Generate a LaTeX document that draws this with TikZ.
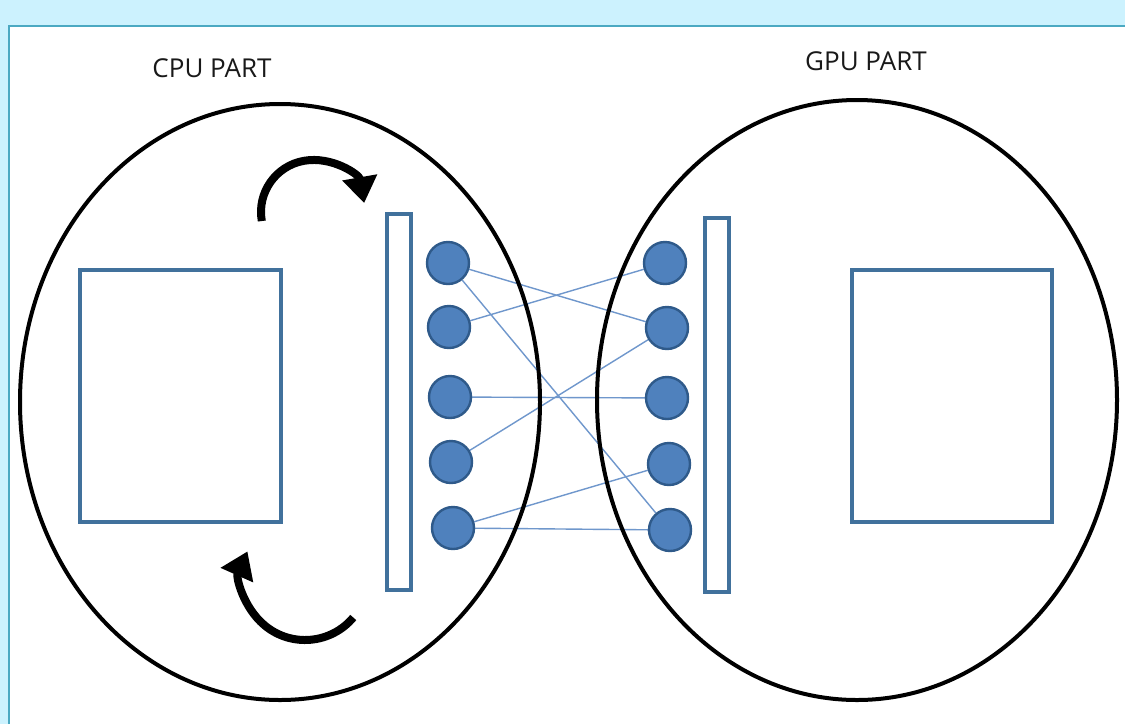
\documentclass[tikz,border=0pt]{standalone}
\usepackage{fontspec}
\setmainfont{Open Sans}
\usetikzlibrary{arrows.meta,calc}
\pgfdeclarelayer{bg}
\pgfsetlayers{bg,main}
\definecolor{frameblue}{HTML}{CCF2FE}
\definecolor{frameline}{HTML}{4BA9C2}
\definecolor{boxblue}{HTML}{41719C}
\definecolor{dotfill}{HTML}{4F81BD}
\definecolor{dotline}{HTML}{2F5A8A}
\definecolor{linkblue}{HTML}{6F97CC}
\tikzset{
  partell/.style={draw=black,line width=4pt},
  blockbox/.style={draw=boxblue,line width=3.2pt,fill=white},
  portdot/.style={circle,fill=dotfill,draw=dotline,line width=2.4pt,minimum size=42pt,inner sep=0pt},
  link/.style={draw=linkblue,line width=1.4pt},
  turn/.style={line width=8pt,-{Triangle[width=34pt,length=26pt]}},
  parttitle/.style={font=\fontsize{26}{30}\selectfont,text=black!90}
}
\begin{document}
\begin{tikzpicture}[x=1pt,y=-1pt]
\useasboundingbox (0,0) rectangle (1125,724);
\begin{pgfonlayer}{bg}
\fill[frameblue] (0,0) rectangle (1125,724);
\fill[white] (9,26) rectangle (1125,724);
\draw[frameline,line width=2.5pt] (9,724) -- (9,26) -- (1125,26);
\end{pgfonlayer}
% titles
\node[parttitle] (cput) at (212,68) {CPU PART};
\node[parttitle] (gput) at (866,61) {GPU PART};
% ellipses
\draw[partell] (280,402) ellipse [x radius=260, y radius=298];
\draw[partell] (857,400) ellipse [x radius=260, y radius=300];
% blocks
\draw[blockbox] (80,270) rectangle (281,522);
\draw[blockbox] (852,270) rectangle (1052,522);
\draw[blockbox] (387,214) rectangle (411,590);
\draw[blockbox] (705,218) rectangle (729,592);
% dots
\node[portdot] (l1) at (448,263) {};
\node[portdot] (l2) at (449,327) {};
\node[portdot] (l3) at (450,397) {};
\node[portdot] (l4) at (451,462) {};
\node[portdot] (l5) at (453,528) {};
\node[portdot] (r1) at (665,263) {};
\node[portdot] (r2) at (667,328) {};
\node[portdot] (r3) at (667,398) {};
\node[portdot] (r4) at (669,464) {};
\node[portdot] (r5) at (670,530) {};
% links (behind)
\begin{pgfonlayer}{bg}
\path[link] (l1) -- (r2);
\path[link] (l1) -- (r5);
\path[link] (l2) -- (r1);
\path[link] (l3) -- (r3);
\path[link] (l4) -- (r2);
\path[link] (l5) -- (r4);
\path[link] (l5) -- (r5);
\end{pgfonlayer}
% curved arrows
\coordinate (tc) at (313,212);
\coordinate (bc) at (305,577);
\draw[turn] ($(tc)+(170:52)$) arc[start angle=170,end angle=350,radius=52];
\draw[turn] ($(bc)+(40:63)$) arc[start angle=40,end angle=204,radius=63];
\end{tikzpicture}
\end{document}
